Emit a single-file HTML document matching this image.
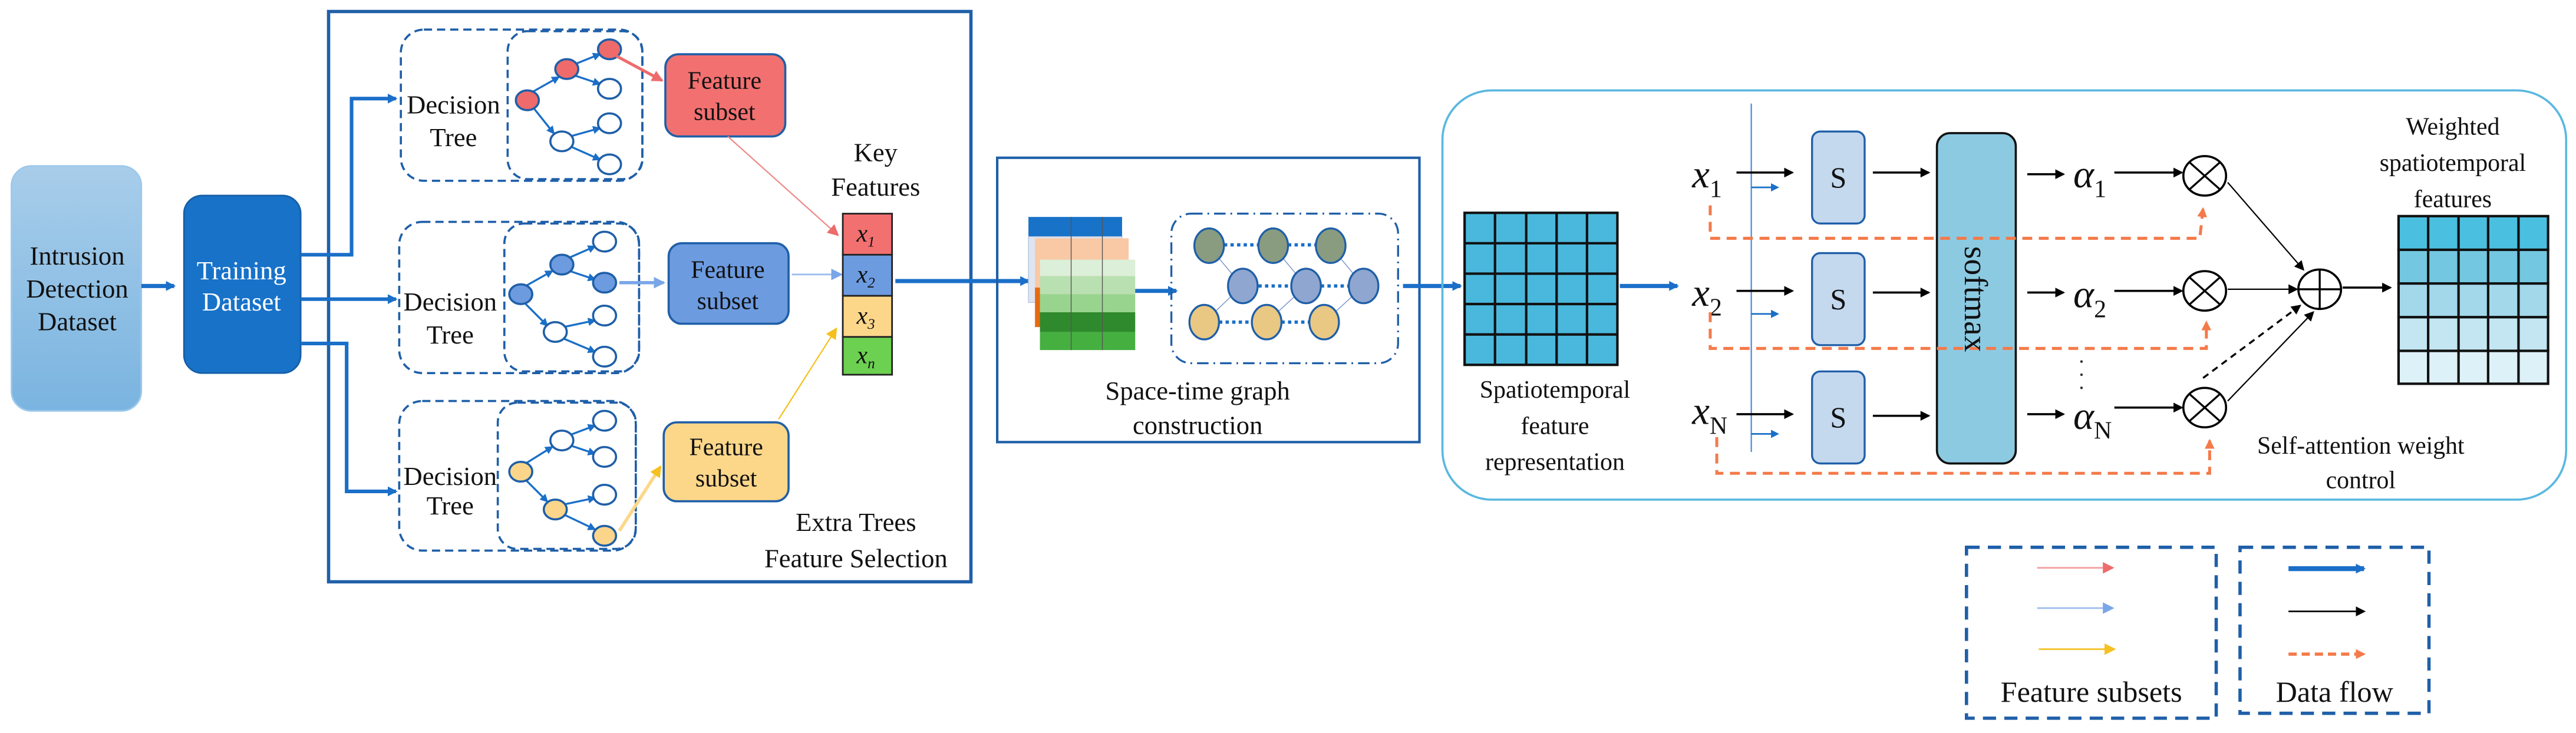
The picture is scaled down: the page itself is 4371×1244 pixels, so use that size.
<!DOCTYPE html>
<html><head><meta charset="utf-8"><style>
html,body{margin:0;padding:0;background:#fff}
svg{display:block}
svg text, svg tspan{font-family:"Liberation Serif","Times New Roman",Times,serif !important}
</style></head><body>
<svg width="4371" height="1244" viewBox="0 0 1568 446" preserveAspectRatio="none" xmlns="http://www.w3.org/2000/svg" font-family="Liberation Serif, Times New Roman, serif" fill="#111">
<defs>
<linearGradient id="gI" x1="0" y1="0" x2="0" y2="1"><stop offset="0" stop-color="#a8cdea"/><stop offset="1" stop-color="#7ab4e0"/></linearGradient>
<marker id="mB" markerWidth="6" markerHeight="6" refX="5" refY="3" orient="auto" markerUnits="userSpaceOnUse"><path d="M0,0 L6,3 L0,6z" fill="#1a6fc8"/></marker>
<marker id="mBs" markerWidth="5" markerHeight="5" refX="4" refY="2.5" orient="auto" markerUnits="userSpaceOnUse"><path d="M0,0 L5,2.5 L0,5z" fill="#1a6fc8"/></marker>
<marker id="mK" markerWidth="6" markerHeight="6" refX="5" refY="3" orient="auto" markerUnits="userSpaceOnUse"><path d="M0,0 L6,3 L0,6z" fill="#000"/></marker>
<marker id="mR" markerWidth="7" markerHeight="7" refX="6" refY="3.5" orient="auto" markerUnits="userSpaceOnUse"><path d="M0,0 L7,3.5 L0,7z" fill="#ee6b6b"/></marker>
<marker id="mL" markerWidth="7" markerHeight="7" refX="6" refY="3.5" orient="auto" markerUnits="userSpaceOnUse"><path d="M0,0 L7,3.5 L0,7z" fill="#7aa6e8"/></marker>
<marker id="mY" markerWidth="7" markerHeight="7" refX="6" refY="3.5" orient="auto" markerUnits="userSpaceOnUse"><path d="M0,0 L7,3.5 L0,7z" fill="#f5c020"/></marker>
<marker id="mO" markerWidth="6" markerHeight="6" refX="5" refY="3" orient="auto" markerUnits="userSpaceOnUse"><path d="M0,0 L6,3 L0,6z" fill="#f47a4a"/></marker>
</defs>

<rect x="7" y="101" width="79" height="149" rx="12" fill="url(#gI)" stroke="#9cc8ec" stroke-width="1"/>
<text x="47" y="161" font-size="16" text-anchor="middle">Intrusion</text>
<text x="47" y="181" font-size="16" text-anchor="middle">Detection</text>
<text x="47" y="201" font-size="16" text-anchor="middle">Dataset</text>
<line x1="86" y1="174" x2="106" y2="174" stroke="#1a6fc8" stroke-width="2.5" marker-end="url(#mB)"/>
<rect x="112" y="119" width="71" height="108" rx="11" fill="#1872c8" stroke="#155fa8"/>
<text x="147" y="170" font-size="16" text-anchor="middle" fill="#fff">Training</text>
<text x="147" y="189" font-size="16" text-anchor="middle" fill="#fff">Dataset</text>

<rect x="200" y="7" width="391" height="347" fill="none" stroke="#1f5fa8" stroke-width="2"/>
<polyline points="183,155 214,155 214,60 241,60" fill="none" stroke="#1a6fc8" stroke-width="2.2" marker-end="url(#mB)"/>
<line x1="183" y1="182" x2="241" y2="182" stroke="#1a6fc8" stroke-width="2.2" marker-end="url(#mB)"/>
<polyline points="183,209 211,209 211,299 241,299" fill="none" stroke="#1a6fc8" stroke-width="2.2" marker-end="url(#mB)"/>

<g fill="none" stroke="#1f5fa8" stroke-width="1.3" stroke-dasharray="5,3">
<rect x="244" y="18" width="147" height="92" rx="14"/>
<rect x="309" y="19" width="82" height="90" rx="12"/>
<rect x="243" y="135" width="146" height="92" rx="14"/>
<rect x="307" y="136" width="82" height="90" rx="12"/>
<rect x="243" y="244" width="144" height="91" rx="14"/>
<rect x="303" y="245" width="84" height="89" rx="12"/>
</g>
<text x="276" y="69" font-size="16" text-anchor="middle">Decision</text>
<text x="276" y="89" font-size="16" text-anchor="middle">Tree</text>
<text x="274" y="189" font-size="16" text-anchor="middle">Decision</text>
<text x="274" y="209" font-size="16" text-anchor="middle">Tree</text>
<text x="274" y="295" font-size="16" text-anchor="middle">Decision</text>
<text x="274" y="313" font-size="16" text-anchor="middle">Tree</text>

<g stroke="#1a6fc8" stroke-width="1.2" marker-end="url(#mBs)">
<line x1="324" y1="56" x2="340" y2="47"/><line x1="350" y1="39" x2="365" y2="33"/><line x1="350" y1="46" x2="365" y2="51"/>
<line x1="325" y1="66" x2="337" y2="81"/><line x1="347" y1="83" x2="365" y2="78"/><line x1="347" y1="89" x2="365" y2="97"/>
<line x1="320" y1="174" x2="336" y2="165"/><line x1="346" y1="157" x2="362" y2="150"/><line x1="347" y1="165" x2="362" y2="170"/>
<line x1="320" y1="185" x2="333" y2="198"/><line x1="343" y1="199" x2="362" y2="195"/><line x1="343" y1="206" x2="362" y2="214"/>
<line x1="320" y1="282" x2="336" y2="272"/><line x1="346" y1="265" x2="362" y2="259"/><line x1="347" y1="271" x2="362" y2="276"/>
<line x1="320" y1="292" x2="333" y2="305"/><line x1="343" y1="307" x2="362" y2="303"/><line x1="343" y1="313" x2="362" y2="322"/>
</g>
<g stroke="#1f5fa8" stroke-width="1.3">
<ellipse cx="321" cy="61" rx="7" ry="6" fill="#ef6b6b"/><ellipse cx="345" cy="42" rx="7" ry="6" fill="#ef6b6b"/><ellipse cx="371" cy="30" rx="7" ry="6" fill="#ef6b6b"/>
<ellipse cx="371" cy="54" rx="7" ry="6" fill="#fff"/><ellipse cx="371" cy="75" rx="7" ry="6" fill="#fff"/><ellipse cx="342" cy="86" rx="7" ry="6" fill="#fff"/><ellipse cx="371" cy="100" rx="7" ry="6" fill="#fff"/>
<ellipse cx="317" cy="179" rx="7" ry="6" fill="#6c9be0"/><ellipse cx="342" cy="161" rx="7" ry="6" fill="#6c9be0"/><ellipse cx="368" cy="172" rx="7" ry="6" fill="#6c9be0"/>
<ellipse cx="368" cy="147" rx="7" ry="6" fill="#fff"/><ellipse cx="368" cy="192" rx="7" ry="6" fill="#fff"/><ellipse cx="338" cy="202" rx="7" ry="6" fill="#fff"/><ellipse cx="368" cy="217" rx="7" ry="6" fill="#fff"/>
<ellipse cx="317" cy="287" rx="7" ry="6" fill="#fbd68a"/><ellipse cx="338" cy="310" rx="7" ry="6" fill="#fbd68a"/><ellipse cx="368" cy="326" rx="7" ry="6" fill="#fbd68a"/>
<ellipse cx="368" cy="256" rx="7" ry="6" fill="#fff"/><ellipse cx="342" cy="268" rx="7" ry="6" fill="#fff"/><ellipse cx="368" cy="278" rx="7" ry="6" fill="#fff"/><ellipse cx="368" cy="301" rx="7" ry="6" fill="#fff"/>
</g>

<rect x="405" y="33" width="73" height="50" rx="8" fill="#f27070" stroke="#1f5fa8" stroke-width="1.3"/>
<text x="441" y="54" font-size="15" text-anchor="middle">Feature</text><text x="441" y="73" font-size="15" text-anchor="middle">subset</text>
<rect x="407" y="148" width="73" height="49" rx="8" fill="#6c9be0" stroke="#1f5fa8" stroke-width="1.3"/>
<text x="443" y="169" font-size="15" text-anchor="middle">Feature</text><text x="443" y="188" font-size="15" text-anchor="middle">subset</text>
<rect x="404" y="257" width="76" height="48" rx="8" fill="#fcd78a" stroke="#1f5fa8" stroke-width="1.3"/>
<text x="442" y="277" font-size="15" text-anchor="middle">Feature</text><text x="442" y="296" font-size="15" text-anchor="middle">subset</text>

<line x1="375" y1="34" x2="403" y2="49" stroke="#ee6b6b" stroke-width="1.8" marker-end="url(#mR)"/>
<line x1="377" y1="172" x2="404" y2="172" stroke="#7aa6e8" stroke-width="2" marker-end="url(#mL)"/>
<line x1="377" y1="323" x2="402" y2="284" stroke="#fcd78a" stroke-width="2" marker-end="url(#mY)"/>
<line x1="443" y1="83" x2="510" y2="143" stroke="#ee8a8a" stroke-width="0.8" marker-end="url(#mR)"/>
<line x1="482" y1="167" x2="512" y2="167" stroke="#9cbcee" stroke-width="1" marker-end="url(#mL)"/>
<line x1="474" y1="255" x2="509" y2="200" stroke="#f5c020" stroke-width="0.8" marker-end="url(#mY)"/>

<text x="533" y="98" font-size="16" text-anchor="middle">Key</text>
<text x="533" y="119" font-size="16" text-anchor="middle">Features</text>
<g stroke="#222" stroke-width="1">
<rect x="513" y="130" width="30" height="25" fill="#f27070"/>
<rect x="513" y="155" width="30" height="25" fill="#6c9be0"/>
<rect x="513" y="180" width="30" height="25" fill="#fcd78a"/>
<rect x="513" y="205" width="30" height="23" fill="#6cd050"/>
</g>
<g font-size="15" font-style="italic" text-anchor="middle">
<text x="527" y="147">x<tspan font-size="9" dy="3">1</tspan></text>
<text x="527" y="172">x<tspan font-size="9" dy="3">2</tspan></text>
<text x="527" y="197">x<tspan font-size="9" dy="3">3</tspan></text>
<text x="527" y="221">x<tspan font-size="9" dy="3">n</tspan></text>
</g>
<text x="521" y="323" font-size="16" text-anchor="middle">Extra Trees</text>
<text x="521" y="345" font-size="16" text-anchor="middle">Feature Selection</text>
<line x1="545" y1="171" x2="626" y2="171" stroke="#1a6fc8" stroke-width="2.5" marker-end="url(#mB)"/>

<rect x="607" y="96" width="257" height="173" fill="none" stroke="#1f5fa8" stroke-width="1.5"/>
<rect x="626" y="132" width="57" height="12" fill="#1872c8"/>
<rect x="626" y="144" width="57" height="40" fill="#dde4f2" stroke="#b8c4dc" stroke-width="0.5"/>
<rect x="630" y="145" width="57" height="54" fill="#f9c8a4"/>
<rect x="630" y="175" width="4" height="24" fill="#e66a10"/>
<rect x="633" y="158" width="58" height="10" fill="#dcefd8"/>
<rect x="633" y="168" width="58" height="11" fill="#b9e0b0"/>
<rect x="633" y="179" width="58" height="11" fill="#98d48e"/>
<rect x="633" y="190" width="58" height="12" fill="#2f8a2d"/>
<rect x="633" y="202" width="58" height="11" fill="#45b040"/>
<g stroke="#555" stroke-width="0.5"><line x1="652" y1="132" x2="652" y2="213"/><line x1="671" y1="132" x2="671" y2="213"/></g>
<line x1="691" y1="177" x2="716" y2="177" stroke="#1a6fc8" stroke-width="2.5" marker-end="url(#mB)"/>
<rect x="713" y="130" width="138" height="91" rx="12" fill="none" stroke="#1f5fa8" stroke-width="1.2" stroke-dasharray="7,3,1,3"/>
<g stroke="#8aa0cc" stroke-width="0.6">
<line x1="736" y1="150" x2="756" y2="174"/><line x1="775" y1="150" x2="795" y2="174"/><line x1="810" y1="150" x2="830" y2="174"/>
<line x1="756" y1="174" x2="733" y2="196"/><line x1="795" y1="174" x2="771" y2="196"/><line x1="830" y1="174" x2="806" y2="196"/>
</g>
<g stroke="#1a6fc8" stroke-width="2" stroke-dasharray="2,2">
<line x1="745" y1="149" x2="766" y2="149"/><line x1="784" y1="149" x2="801" y2="149"/>
<line x1="766" y1="174" x2="786" y2="174"/><line x1="804" y1="174" x2="821" y2="174"/>
<line x1="742" y1="196" x2="762" y2="196"/><line x1="780" y1="196" x2="797" y2="196"/>
</g>
<g stroke="#1f5fa8" stroke-width="1.2">
<ellipse cx="736" cy="149.5" rx="9" ry="10.5" fill="#8a9c80"/><ellipse cx="775" cy="149.5" rx="9" ry="10.5" fill="#8a9c80"/><ellipse cx="810" cy="149.5" rx="9" ry="10.5" fill="#8a9c80"/>
<ellipse cx="756.5" cy="174" rx="9" ry="10.5" fill="#8fa6d0"/><ellipse cx="795" cy="174" rx="9" ry="10.5" fill="#8fa6d0"/><ellipse cx="830" cy="174" rx="9" ry="10.5" fill="#8fa6d0"/>
<ellipse cx="733" cy="196" rx="9" ry="10.5" fill="#e8c882"/><ellipse cx="771" cy="196" rx="9" ry="10.5" fill="#e8c882"/><ellipse cx="806" cy="196" rx="9" ry="10.5" fill="#e8c882"/>
</g>
<text x="729" y="243" font-size="16" text-anchor="middle">Space-time graph</text>
<text x="729" y="264" font-size="16" text-anchor="middle">construction</text>
<line x1="854" y1="174" x2="889" y2="174" stroke="#1a6fc8" stroke-width="2.5" marker-end="url(#mB)"/>

<rect x="878" y="55" width="684" height="249" rx="30" fill="none" stroke="#5ab8e0" stroke-width="1.3"/>
<rect x="891.5" y="129.5" width="93" height="92.5" fill="#4ab8dc" stroke="#111" stroke-width="1.5"/>
<g stroke="#111" stroke-width="1.5">
<line x1="910" y1="129.5" x2="910" y2="222"/><line x1="929" y1="129.5" x2="929" y2="222"/><line x1="947.5" y1="129.5" x2="947.5" y2="222"/><line x1="966" y1="129.5" x2="966" y2="222"/>
<line x1="891.5" y1="148" x2="984.5" y2="148"/><line x1="891.5" y1="166.5" x2="984.5" y2="166.5"/><line x1="891.5" y1="185" x2="984.5" y2="185"/><line x1="891.5" y1="203.5" x2="984.5" y2="203.5"/>
</g>
<text x="946.5" y="242" font-size="15" text-anchor="middle">Spatiotemporal</text>
<text x="946.5" y="264" font-size="15" text-anchor="middle">feature</text>
<text x="946.5" y="286" font-size="15" text-anchor="middle">representation</text>
<line x1="986" y1="174" x2="1021" y2="174" stroke="#1a6fc8" stroke-width="2.5" marker-end="url(#mB)"/>
<line x1="1066" y1="63" x2="1066" y2="275" stroke="#4a8ae0" stroke-width="0.8"/>

<g font-size="24" font-style="italic">
<text x="1030" y="114">x<tspan font-size="15" font-style="normal" dy="6">1</tspan></text>
<text x="1030" y="186">x<tspan font-size="15" font-style="normal" dy="6">2</tspan></text>
<text x="1030" y="258">x<tspan font-size="15" font-style="normal" dy="6">N</tspan></text>
<text x="1262" y="114">α<tspan font-size="15" font-style="normal" dy="6">1</tspan></text>
<text x="1262" y="187">α<tspan font-size="15" font-style="normal" dy="6">2</tspan></text>
<text x="1262" y="261">α<tspan font-size="15" font-style="normal" dy="6">N</tspan></text>
</g>
<g stroke="#000" stroke-width="1.3" marker-end="url(#mK)">
<line x1="1057" y1="105" x2="1091" y2="105"/><line x1="1057" y1="177" x2="1091" y2="177"/><line x1="1057" y1="252" x2="1091" y2="252"/>
<line x1="1140" y1="105" x2="1174" y2="105"/><line x1="1140" y1="178" x2="1174" y2="178"/><line x1="1140" y1="253" x2="1174" y2="253"/>
<line x1="1234" y1="106" x2="1256" y2="106"/><line x1="1234" y1="178" x2="1256" y2="178"/><line x1="1234" y1="252" x2="1256" y2="252"/>
<line x1="1287" y1="105" x2="1328" y2="105"/><line x1="1287" y1="177" x2="1328" y2="177"/><line x1="1287" y1="248" x2="1328" y2="248"/>
</g>
<g stroke="#1a6fc8" stroke-width="1" marker-end="url(#mBs)">
<line x1="1066" y1="114" x2="1082" y2="114"/><line x1="1066" y1="191" x2="1082" y2="191"/><line x1="1066" y1="264" x2="1082" y2="264"/>
</g>
<g fill="#c4d8ee" stroke="#1f5fa8" stroke-width="1.2">
<rect x="1103" y="80" width="32" height="56" rx="5"/>
<rect x="1103" y="154" width="32" height="56" rx="5"/>
<rect x="1103" y="226" width="32" height="56" rx="5"/>
</g>
<text x="1119" y="114" font-size="18" text-anchor="middle">S</text>
<text x="1119" y="188" font-size="18" text-anchor="middle">S</text>
<text x="1119" y="260" font-size="18" text-anchor="middle">S</text>
<rect x="1179" y="81" width="48" height="201" rx="8" fill="#8ccae2" stroke="#111" stroke-width="1.3"/>

<g stroke="#f47a4a" stroke-width="1.8" stroke-dasharray="6,4" fill="none">
<polyline points="1041,125 1041,145 1339,145 1341,127" marker-end="url(#mO)"/>
<polyline points="1041,190 1041,212 1343,212 1343,196" marker-end="url(#mO)"/>
<polyline points="1045,266 1045,288 1345,288 1345,268" marker-end="url(#mO)"/>
</g>
<text transform="translate(1196,182) rotate(90)" font-size="20" text-anchor="middle">softmax</text>
<g fill="#333"><circle cx="1267" cy="220" r="0.8"/><circle cx="1267" cy="228" r="0.8"/><circle cx="1267" cy="236" r="0.8"/></g>

<g fill="#fff" stroke="#000" stroke-width="1.3">
<ellipse cx="1342" cy="107" rx="13" ry="12"/><ellipse cx="1342" cy="177" rx="13" ry="12"/><ellipse cx="1342" cy="248" rx="13" ry="12"/>
<ellipse cx="1412" cy="176" rx="13" ry="12"/>
</g>
<g stroke="#000" stroke-width="1.2">
<line x1="1333" y1="99" x2="1351" y2="115"/><line x1="1351" y1="99" x2="1333" y2="115"/>
<line x1="1333" y1="169" x2="1351" y2="185"/><line x1="1351" y1="169" x2="1333" y2="185"/>
<line x1="1333" y1="240" x2="1351" y2="256"/><line x1="1351" y1="240" x2="1333" y2="256"/>
<line x1="1399" y1="176" x2="1425" y2="176"/><line x1="1412" y1="164" x2="1412" y2="188"/>
</g>
<g stroke="#000" stroke-width="0.8" marker-end="url(#mK)">
<line x1="1356" y1="111" x2="1402" y2="164"/>
<line x1="1356" y1="176" x2="1398" y2="176"/>
<line x1="1356" y1="244" x2="1408" y2="190"/>
<line x1="1341" y1="230" x2="1400" y2="186" stroke-dasharray="4,3" stroke-width="1.2"/>
<line x1="1426" y1="175" x2="1455" y2="175" stroke-width="1.3"/>
</g>
<g stroke="#111" stroke-width="1.5">
<rect x="1460" y="131.5" width="91" height="20.5" fill="#4bbfe0"/>
<rect x="1460" y="152" width="91" height="20.5" fill="#73c7e0"/>
<rect x="1460" y="172.5" width="91" height="20.5" fill="#a2d8ea"/>
<rect x="1460" y="193" width="91" height="20.5" fill="#c3e6f2"/>
<rect x="1460" y="213.5" width="91" height="20" fill="#ddf1f8"/>
<line x1="1478" y1="131.5" x2="1478" y2="233.5"/><line x1="1496.5" y1="131.5" x2="1496.5" y2="233.5"/><line x1="1514.5" y1="131.5" x2="1514.5" y2="233.5"/><line x1="1533" y1="131.5" x2="1533" y2="233.5"/>
</g>
<text x="1493" y="82" font-size="15" text-anchor="middle">Weighted</text>
<text x="1493" y="104" font-size="15" text-anchor="middle">spatiotemporal</text>
<text x="1493" y="126" font-size="15" text-anchor="middle">features</text>
<text x="1437" y="276" font-size="15" text-anchor="middle">Self-attention weight</text>
<text x="1437" y="297" font-size="15" text-anchor="middle">control</text>

<g fill="none" stroke="#1f5fa8" stroke-width="2" stroke-dasharray="8,5">
<rect x="1197" y="333" width="152" height="104"/>
<rect x="1363.5" y="333" width="115" height="101"/>
</g>
<line x1="1240" y1="345.5" x2="1286" y2="345.5" stroke="#f4a0a0" stroke-width="1" marker-end="url(#mR)"/>
<line x1="1240" y1="370" x2="1286" y2="370" stroke="#9cbcee" stroke-width="1" marker-end="url(#mL)"/>
<line x1="1241" y1="395" x2="1287" y2="395" stroke="#f5c020" stroke-width="1" marker-end="url(#mY)"/>
<line x1="1393" y1="346" x2="1439" y2="346" stroke="#1a6fc8" stroke-width="3" marker-end="url(#mB)"/>
<line x1="1393" y1="372" x2="1439" y2="372" stroke="#000" stroke-width="1" marker-end="url(#mK)"/>
<line x1="1393" y1="398" x2="1439" y2="398" stroke="#f47a4a" stroke-width="2" stroke-dasharray="5,3" marker-end="url(#mO)"/>
<text x="1273" y="427" font-size="18" text-anchor="middle">Feature subsets</text>
<text x="1421" y="427" font-size="18" text-anchor="middle">Data flow</text>
</svg>
</body></html>
